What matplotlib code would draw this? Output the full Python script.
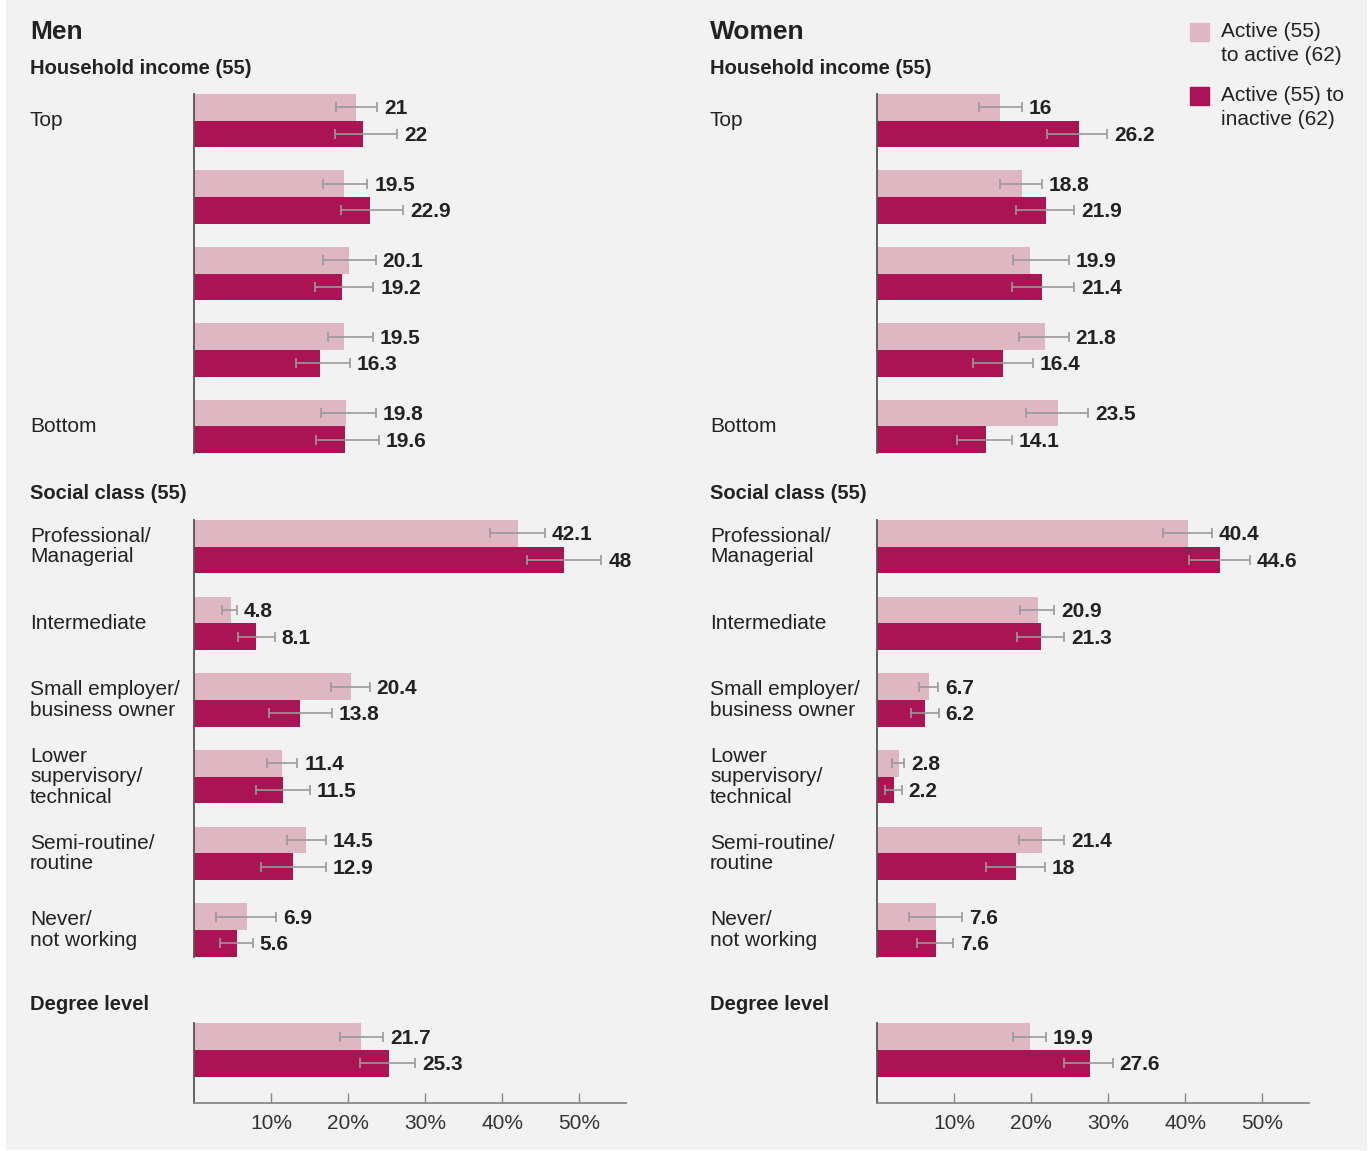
import numpy as np
import matplotlib
matplotlib.use('Agg')
import matplotlib.pyplot as plt
import matplotlib.transforms as mtransforms
from matplotlib.patches import Rectangle

plt.rcParams['font.family'] = ['Liberation Sans', 'DejaVu Sans']

# share (%) with bounds, a = active->active, b = active->inactive
income_labels = ['Top', '', '', '', 'Bottom']
class_labels = ['Professional/\nManagerial', 'Intermediate', 'Small employer/\nbusiness owner',
                'Lower\nsupervisory/\ntechnical', 'Semi-routine/\nroutine', 'Never/\nnot working']
degree_labels = ['']

men_inc_a = [21, 19.5, 20.1, 19.5, 19.8]
men_inc_a_lo = [18.4, 16.8, 16.8, 17.4, 16.5]
men_inc_a_hi = [23.8, 22.5, 23.6, 23.2, 23.6]
men_inc_b = [22, 22.9, 19.2, 16.3, 19.6]
men_inc_b_lo = [18.3, 19.1, 15.7, 13.2, 15.9]
men_inc_b_hi = [26.4, 27.2, 23.3, 20.2, 24.0]

men_cls_a = [42.1, 4.8, 20.4, 11.4, 14.5, 6.9]
men_cls_a_lo = [38.4, 3.7, 17.8, 9.5, 12.1, 2.9]
men_cls_a_hi = [45.6, 5.6, 22.8, 13.4, 17.1, 10.7]
men_cls_b = [48, 8.1, 13.8, 11.5, 12.9, 5.6]
men_cls_b_lo = [43.2, 5.7, 9.7, 8.1, 8.7, 3.4]
men_cls_b_hi = [52.9, 10.5, 17.9, 15.0, 17.1, 7.6]

men_deg_a, men_deg_a_lo, men_deg_a_hi = [21.7], [18.9], [24.6]
men_deg_b, men_deg_b_lo, men_deg_b_hi = [25.3], [21.6], [28.7]

women_inc_a = [16, 18.8, 19.9, 21.8, 23.5]
women_inc_a_lo = [13.2, 16.0, 17.6, 18.5, 19.4]
women_inc_a_hi = [18.8, 21.4, 24.9, 24.9, 27.4]
women_inc_b = [26.2, 21.9, 21.4, 16.4, 14.1]
women_inc_b_lo = [22.1, 18.0, 17.5, 12.5, 10.4]
women_inc_b_hi = [29.9, 25.6, 25.6, 20.2, 17.5]

women_cls_a = [40.4, 20.9, 6.7, 2.8, 21.4, 7.6]
women_cls_a_lo = [37.1, 18.6, 5.4, 1.9, 18.4, 4.1]
women_cls_a_hi = [43.5, 23.0, 7.9, 3.5, 24.3, 11.1]
women_cls_b = [44.6, 21.3, 6.2, 2.2, 18, 7.6]
women_cls_b_lo = [40.5, 18.2, 4.4, 1.0, 14.1, 5.2]
women_cls_b_hi = [48.4, 24.3, 8.0, 3.2, 21.8, 9.9]

women_deg_a, women_deg_a_lo, women_deg_a_hi = [19.9], [17.6], [21.9]
women_deg_b, women_deg_b_lo, women_deg_b_hi = [27.6], [24.3], [30.6]

LIGHT = '#dfb7c2'
DARK = '#aa1455'
BG = '#f2f2f2'
TXT = '#222222'
W, H = 1370, 1151
BAR_H = 0.347


def px_rect(left, top, width, height):
    return [left / W, 1 - (top + height) / H, width / W, height / H]


def draw_block(fig, rect, label_x, labels, a, a_lo, a_hi, b, b_lo, b_hi, extra=0.0, xaxis=False):
    ax = fig.add_axes(rect)
    ax.patch.set_alpha(0)
    y = np.arange(len(a))
    err_kw = dict(ecolor='#9a9a9a', elinewidth=1.2, capsize=3.3, capthick=1.2)
    for vals, lo, hi, off, col in [(a, a_lo, a_hi, -BAR_H / 2, LIGHT), (b, b_lo, b_hi, BAR_H / 2, DARK)]:
        vals, lo, hi = np.array(vals), np.array(lo), np.array(hi)
        ax.barh(y + off, vals, height=BAR_H, color=col,
                xerr=[vals - lo, hi - vals], error_kw=err_kw)
        for yi, v, h in zip(y + off, vals, hi):
            ax.annotate(f'{v:g}', xy=(h, yi), xytext=(5, -1), textcoords='offset points',
                        va='center', ha='left', fontsize=15, fontweight='bold', color=TXT)
    ax.set_xlim(0, 56.1)
    ax.set_ylim(len(a) - 1 + BAR_H + extra, -BAR_H)
    for s in ['top', 'right']:
        ax.spines[s].set_visible(False)
    ax.spines['left'].set_color('#555555')
    ax.spines['left'].set_linewidth(1.3)
    ax.set_yticks([])
    if xaxis:
        ax.spines['bottom'].set_color('#888888')
        ax.spines['bottom'].set_linewidth(1.3)
        ax.set_xticks([10, 20, 30, 40, 50])
        ax.set_xticklabels(['10%', '20%', '30%', '40%', '50%'])
        ax.tick_params(axis='x', direction='in', length=7, width=1, color='#888888',
                       labelsize=15, labelcolor='#333333', pad=8)
    else:
        ax.spines['bottom'].set_visible(False)
        ax.set_xticks([])
    trans = mtransforms.blended_transform_factory(fig.transFigure, ax.transData)
    for yi, lab in zip(y, labels):
        if lab:
            ax.text(label_x / W, yi, lab, transform=trans, ha='left', va='center',
                    fontsize=15, color=TXT, linespacing=1.1)
    return ax


def draw_panel(fig, left, label_x, title, inc, cls, deg):
    fig.text(label_x / W, 1 - 32 / H, title, fontsize=19, fontweight='bold', color=TXT, va='center')
    fig.text(label_x / W, 1 - 68 / H, 'Household income (55)', fontsize=14.5, fontweight='bold',
             color=TXT, va='center')
    fig.text(label_x / W, 1 - 494 / H, 'Social class (55)', fontsize=14.5, fontweight='bold',
             color=TXT, va='center')
    fig.text(label_x / W, 1 - 1004 / H, 'Degree level', fontsize=14.5, fontweight='bold',
             color=TXT, va='center')
    draw_block(fig, px_rect(left, 94, 432, 359), label_x, income_labels, *inc)
    draw_block(fig, px_rect(left, 520, 432, 436.7), label_x, class_labels, *cls)
    draw_block(fig, px_rect(left, 1023.3, 432, 79.4), label_x, degree_labels, *deg,
               extra=0.34, xaxis=True)


def main():
    fig = plt.figure(figsize=(W / 100, H / 100), dpi=100, facecolor='white')
    fig.patches.append(Rectangle((6 / W, 1 - 1149 / H), 1360 / W, 1149 / H,
                                 transform=fig.transFigure, color=BG, zorder=-10))

    draw_panel(fig, 194, 30, 'Men',
               (men_inc_a, men_inc_a_lo, men_inc_a_hi, men_inc_b, men_inc_b_lo, men_inc_b_hi),
               (men_cls_a, men_cls_a_lo, men_cls_a_hi, men_cls_b, men_cls_b_lo, men_cls_b_hi),
               (men_deg_a, men_deg_a_lo, men_deg_a_hi, men_deg_b, men_deg_b_lo, men_deg_b_hi))
    draw_panel(fig, 877, 710, 'Women',
               (women_inc_a, women_inc_a_lo, women_inc_a_hi, women_inc_b, women_inc_b_lo, women_inc_b_hi),
               (women_cls_a, women_cls_a_lo, women_cls_a_hi, women_cls_b, women_cls_b_lo, women_cls_b_hi),
               (women_deg_a, women_deg_a_lo, women_deg_a_hi, women_deg_b, women_deg_b_lo, women_deg_b_hi))

    # legend, drawn by hand in figure pixels
    for top, col, text in [(23, LIGHT, 'Active (55)\nto active (62)'),
                           (87, DARK, 'Active (55) to\ninactive (62)')]:
        fig.patches.append(Rectangle((1190 / W, 1 - (top + 18) / H), 19 / W, 18 / H,
                                     transform=fig.transFigure, color=col))
        fig.text(1221 / W, 1 - (top - 1) / H, text, fontsize=15, color=TXT, va='top',
                 ha='left', linespacing=1.35)

    fig.savefig('out.png', dpi=100, facecolor=fig.get_facecolor())


if __name__ == '__main__':
    main()
